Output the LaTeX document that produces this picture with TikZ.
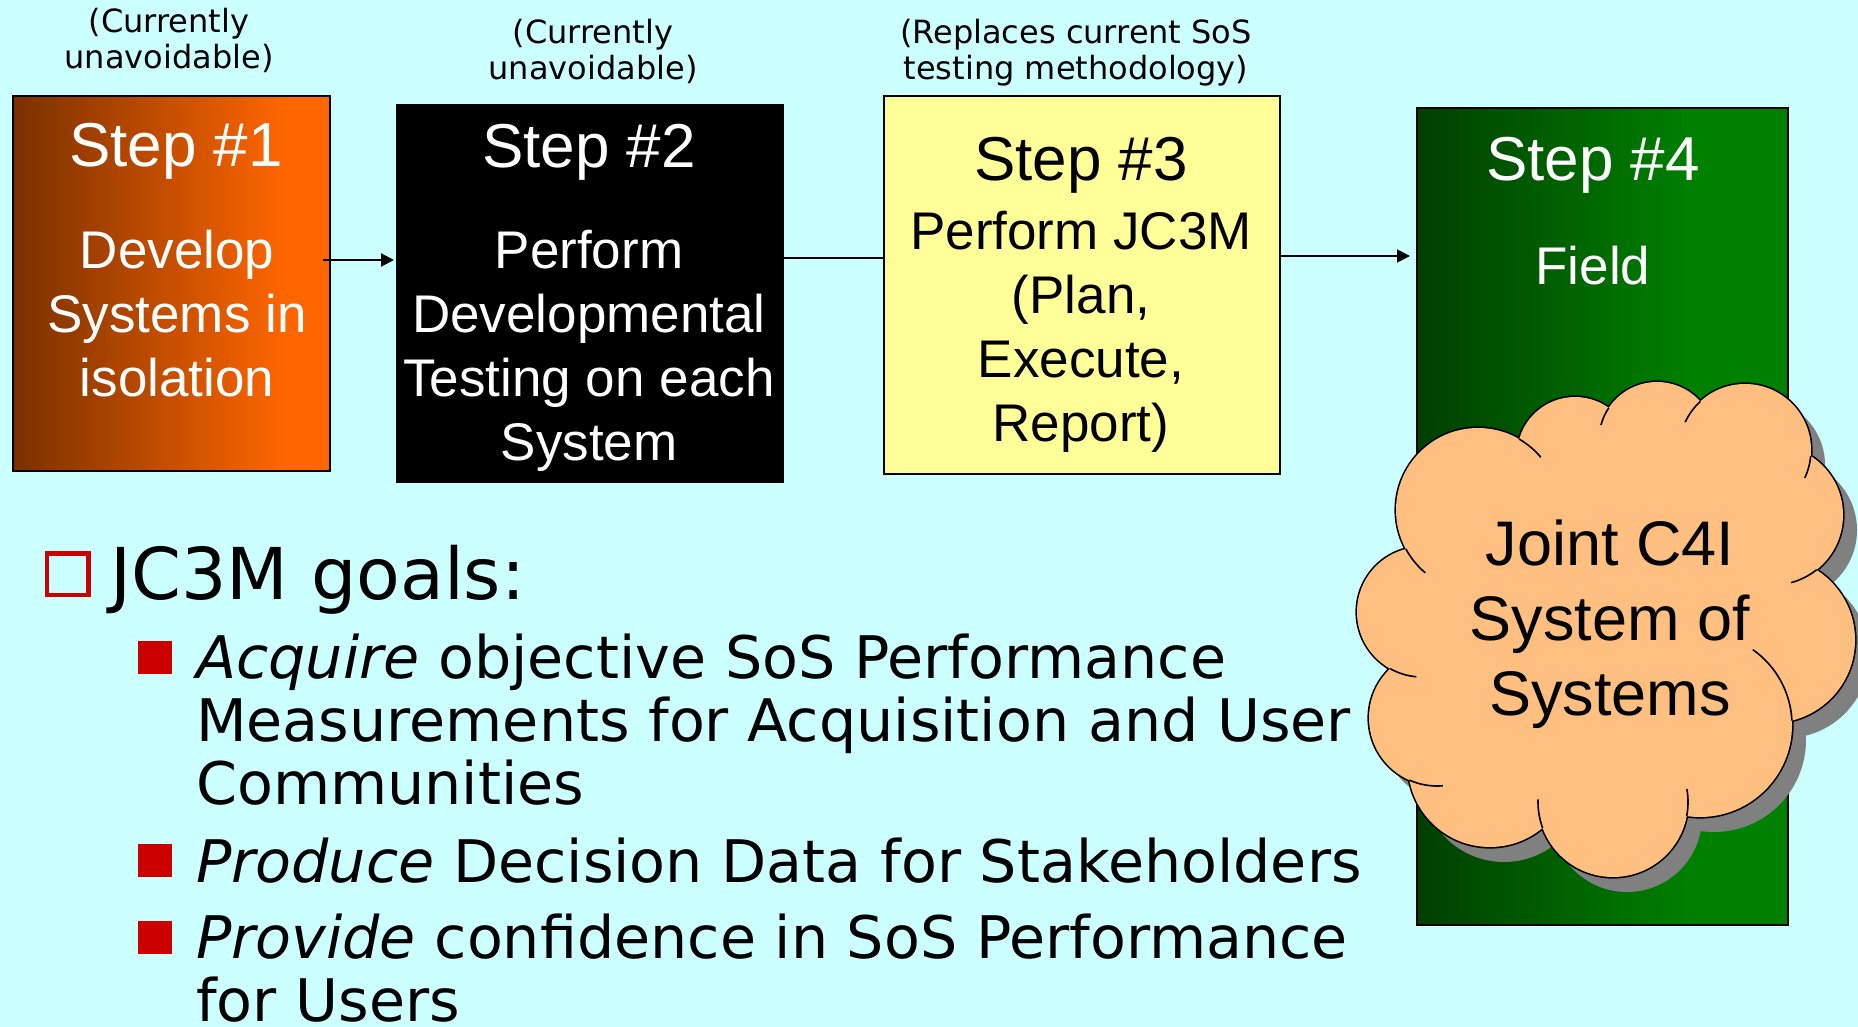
\documentclass[tikz,border=0pt]{standalone}
\usepackage{fontspec}
\usetikzlibrary{arrows.meta,calc}
\newfontfamily\arialf{Liberation Sans}
\newfontfamily\verdf{DejaVu Sans}
\definecolor{bgc}{HTML}{CCFFFF}
\definecolor{brn}{HTML}{7A3000}
\definecolor{org}{HTML}{FF6600}
\definecolor{dgr}{HTML}{003F00}
\definecolor{lgr}{HTML}{008000}
\definecolor{ylw}{HTML}{FFFF99}
\definecolor{cloudc}{HTML}{FFBF80}
\definecolor{shdc}{HTML}{808080}
\definecolor{redc}{HTML}{CC0000}
\pgfdeclarehorizontalshading{orsh}{100bp}{color(0bp)=(brn); color(25bp)=(brn); color(68bp)=(org); color(100bp)=(org)}
\pgfdeclarehorizontalshading{grsh}{100bp}{color(0bp)=(dgr); color(25bp)=(dgr); color(62bp)=(lgr); color(100bp)=(lgr)}
\newcommand\tstrut{\rule{0pt}{1em}}
\newcommand\cloudpath{(1478,510) circle[radius=82] (1422,612) circle[radius=65] (1437,718) circle[radius=68] (1490,765) circle[radius=82] (1613,802) circle[radius=75] (1700,725) circle[radius=92] (1772,640) circle[radius=83] (1773,515) circle[radius=70] (1745,450) circle[radius=66] (1657,440) circle[radius=58] (1575,455) circle[radius=58]}
\tikzset{
  lbl/.style={inner sep=0pt, align=center, anchor=north, font=\verdf\fontsize{32}{36}\selectfont},
  stepbox/.style={draw=black, line width=2pt, anchor=north west, inner sep=0pt},
  ttl/.style={inner sep=0pt, anchor=base, font=\arialf\fontsize{62}{72}\selectfont},
  bodytxt/.style={inner sep=0pt, align=center, anchor=north, font=\arialf\fontsize{53}{64}\selectfont},
  arr/.style={line width=2pt, -{Triangle[length=13pt,width=13pt]}},
  conn/.style={line width=2pt},
  bul/.style={fill=redc, minimum width=34pt, minimum height=33pt, inner sep=0pt},
  itemtxt/.style={inner sep=0pt, align=left, anchor=north west, font=\verdf\fontsize{58.7}{63}\selectfont},
  cloudline/.style={line width=1.6pt, black}
}
\begin{document}
\begin{tikzpicture}[x=1pt,y=-1pt]
\useasboundingbox (0,0) rectangle (1858,1027);
\fill[bgc] (0,0) rectangle (1858,1027);

% top labels
\node[lbl] (lab1) at (169,0) {\tstrut(Currently\\unavoidable)};
\node[lbl] (lab2) at (593,11) {\tstrut(Currently\\unavoidable)};
\node[lbl] (lab3) at (1076,11) {\tstrut(Replaces current SoS\\testing methodology)};

% step boxes
\node[stepbox, shade, shading=orsh, minimum width=317pt, minimum height=375pt] (s1) at (12,95) {};
\node[stepbox, fill=black, minimum width=386pt, minimum height=377pt] (s2) at (396,104) {};
\node[stepbox, fill=ylw, minimum width=396pt, minimum height=378pt] (s3) at (883,95) {};
\node[stepbox, shade, shading=grsh, minimum width=371pt, minimum height=817pt] (s4) at (1416,107) {};

\node[ttl, white] (t1) at (176,167) {Step \#1};
\node[bodytxt, white] (d1) at (177,215) {\tstrut Develop\\Systems in\\isolation};
\node[ttl, white] (t2) at (589,168) {Step \#2};
\node[bodytxt, white] (d2) at (589,215) {\tstrut Perform\\Developmental\\Testing on each\\System};
\node[ttl, black] (t3) at (1081,181) {Step \#3};
\node[bodytxt, black] (d3) at (1081,196) {\tstrut Perform JC3M\\(Plan,\\Execute,\\Report)};
\node[ttl, white] (t4) at (1593,181) {Step \#4};
\node[inner sep=0pt, anchor=base, white, font=\arialf\fontsize{53}{64}\selectfont] (d4) at (1593,284) {Field};

% connectors
\coordinate (ya) at (0,260);
\coordinate (yb) at (0,258);
\coordinate (yc) at (0,256);
\draw[arr] ($(s1.east |- ya)+(-8,0)$) -- ($(s2.west |- ya)+(-2,0)$);
\draw[conn] (s2.east |- yb) -- (s3.west |- yb);
\draw[arr] (s3.east |- yc) -- ($(s4.west |- yc)+(-6,0)$);

% cloud
\fill[shdc, shift={(14,15)}] \cloudpath (1610,620) ellipse[x radius=200, y radius=175];
\filldraw[fill=cloudc, draw=black, line width=3.2pt] \cloudpath;
\fill[cloudc] \cloudpath (1610,620) ellipse[x radius=200, y radius=175];
\draw[cloudline] (1478,510) ++(-60:82) arc[start angle=-60, end angle=-40, radius=82];
\draw[cloudline] (1657,440) ++(213.6:58) arc[start angle=213.6, end angle=195, radius=58];
\draw[cloudline] (1745,450) ++(227.3:66) arc[start angle=227.3, end angle=205, radius=66];
\draw[cloudline] (1745,450) ++(5.3:66) arc[start angle=5.3, end angle=25, radius=66];
\draw[cloudline] (1773,515) ++(51.4:70) arc[start angle=51.4, end angle=75, radius=70];
\draw[cloudline] (1700,725) ++(-2.7:92) arc[start angle=-2.7, end angle=-55, radius=92];
\draw[cloudline] (1613,802) ++(10.8:75) arc[start angle=10.8, end angle=-10, radius=75];
\draw[cloudline] (1613,802) ++(159.8:75) arc[start angle=159.8, end angle=182, radius=75];
\draw[cloudline] (1437,718) ++(113.9:68) arc[start angle=113.9, end angle=85, radius=68];
\draw[cloudline] (1422,612) ++(119.3:65) arc[start angle=119.3, end angle=95, radius=65];
\draw[cloudline] (1478,510) ++(151.6:82) arc[start angle=151.6, end angle=130, radius=82];
\node[inner sep=0pt, align=center, anchor=north, font=\arialf\fontsize{63}{75}\selectfont] (cl) at (1610,502) {\tstrut Joint C4I\\System of\\Systems};

% goals
\node[draw=redc, line width=4.5pt, minimum size=41.5pt, inner sep=0pt] (hb) at (67.5,574) {};
\node[anchor=base west, inner sep=0pt, font=\verdf\fontsize{71.5}{84}\selectfont] (goals) at (110,599) {JC3M goals:};
\node[bul] (b1) at (155,657.5) {};
\node[bul] (b2) at (155,860.5) {};
\node[bul] (b3) at (155,937.5) {};
\node[itemtxt] (i1) at (196,620) {\tstrut\textit{Acquire} objective SoS Performance\\Measurements for Acquisition and User\\Communities};
\node[inner sep=0pt, anchor=base west, font=\verdf\fontsize{58.7}{63}\selectfont] (i2) at (196,882) {\textit{Produce} Decision Data for Stakeholders};
\node[itemtxt] (i3) at (196,900) {\tstrut\textit{Provide} confidence in SoS Performance\\for Users};
\end{tikzpicture}
\end{document}
